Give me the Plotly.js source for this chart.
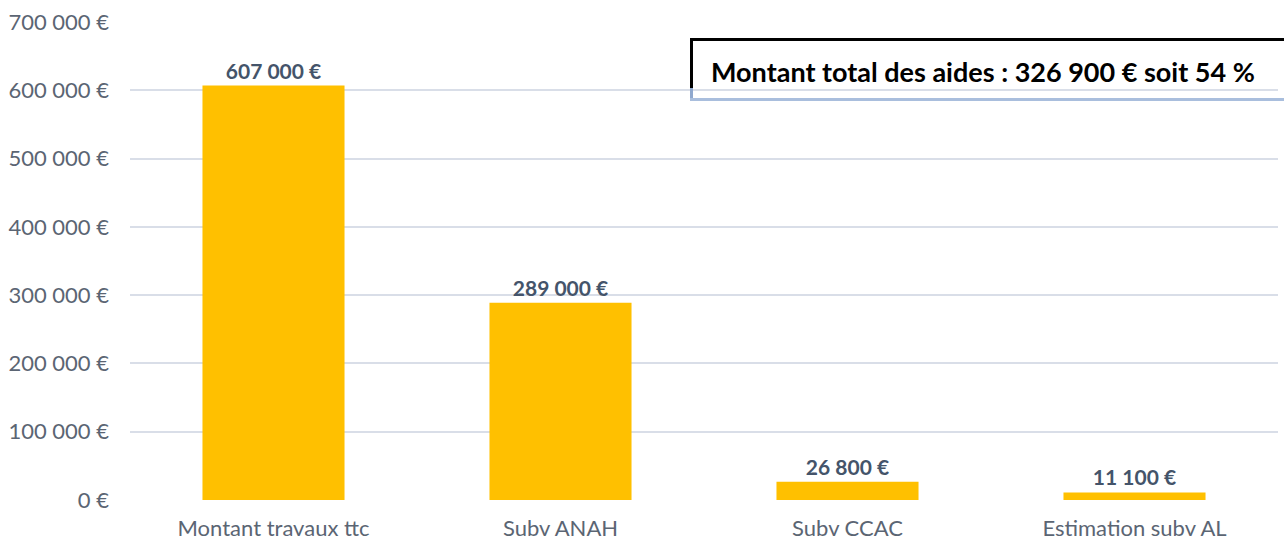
<!DOCTYPE html>
<html>
<head>
<meta charset="utf-8">
<script src="https://cdn.plot.ly/plotly-3.0.1.min.js"></script>
<style>html,body{margin:0;padding:0;background:#fff;}#chart{width:1284px;height:540px;}</style>
</head>
<body>
<div id="chart"></div>
<script>
const categories = ["Montant travaux ttc", "Subv ANAH", "Subv CCAC", "Estimation subv AL"];
const values = [607000, 289000, 26800, 11100];
const yTicks = [0, 100000, 200000, 300000, 400000, 500000, 600000, 700000];
const yTickText = ["0 €", "100 000 €", "200 000 €", "300 000 €", "400 000 €", "500 000 €", "600 000 €", "700 000 €"];
const boxText = "Montant total des aides : 326 900 € soit 54 %";

const trace = {
  type: "bar",
  x: categories,
  y: values,
  marker: {color: "#FFC000"},
  texttemplate: "<b>%{y:,.0f} €</b>",
  textposition: "outside",
  cliponaxis: false,
  textfont: {family: "Lato", size: 21, color: "#44546A"},
  hoverinfo: "skip"
};

// paper coords: plot x from 130 to 1278 (width 1148), y from 22 to 500 (height 478)
function px(x){ return (x - 130) / 1148; }
function py(y){ return (500 - y) / 478; }

const layout = {
  width: 1284,
  height: 540,
  margin: {l: 130, r: 6, t: 22, b: 40},
  paper_bgcolor: "#ffffff",
  plot_bgcolor: "#ffffff",
  separators: ", ",
  bargap: 0.505,
  showlegend: false,
  font: {family: "Lato", color: "#5B6573"},
  xaxis: {
    type: "category",
    showgrid: false,
    zeroline: false,
    showline: false,
    ticks: "",
    tickfont: {family: "Lato", size: 22, color: "#5B6573"},
    ticklabelstandoff: 13
  },
  yaxis: {
    range: [0, 700000],
    tickmode: "array",
    tickvals: yTicks,
    ticktext: yTickText,
    showgrid: true,
    gridcolor: "#D9DEE8",
    gridwidth: 2,
    zeroline: false,
    showline: false,
    ticks: "",
    tickfont: {family: "Lato", size: 22, color: "#5B6573"},
    ticklabelstandoff: 20
  },
  shapes: [
    {type: "line", xref: "paper", yref: "paper", x0: px(691), x1: px(1300), y0: py(39.5), y1: py(39.5), line: {color: "#000000", width: 3}},
    {type: "line", xref: "paper", yref: "paper", x0: px(691.5), x1: px(691.5), y0: py(38), y1: py(90), line: {color: "#000000", width: 3}},
    {type: "line", xref: "paper", yref: "paper", x0: px(691.5), x1: px(691.5), y0: py(88), y1: py(101), line: {color: "#8FA8CE", width: 3}},
    {type: "line", xref: "paper", yref: "paper", x0: px(690), x1: px(1300), y0: py(99.5), y1: py(99.5), line: {color: "#A9BEDD", width: 3}}
  ],
  annotations: [
    {xref: "paper", yref: "paper", x: px(709), y: py(71), xanchor: "left", yanchor: "middle",
     text: "<b>" + boxText + "</b>", showarrow: false,
     font: {family: "Lato", size: 27, color: "#000000"}}
  ]
};

Plotly.newPlot("chart", [trace], layout, {displayModeBar: false, staticPlot: true});
</script>
</body>
</html>
